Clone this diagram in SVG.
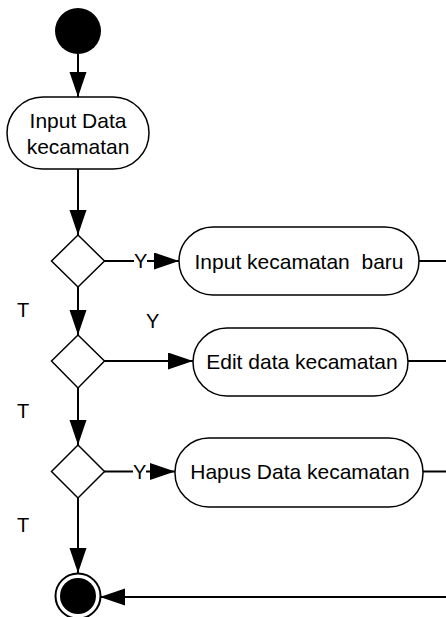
<svg xmlns="http://www.w3.org/2000/svg" width="446" height="617" viewBox="0 0 446 617">
<style>
.n{fill:#fff;stroke:#000;stroke-width:1.5}
.t{font-family:"Liberation Sans",Arial,sans-serif;font-size:21px;fill:#000;text-anchor:middle}
.l{font-family:"Liberation Sans",Arial,sans-serif;font-size:20px;fill:#000}
.c{fill:none;stroke:#000;stroke-width:2}
</style>
<defs>
<marker id="a" markerUnits="userSpaceOnUse" markerWidth="26" markerHeight="18" refX="25" refY="8.5" orient="auto">
<path d="M0,0 L25,8.5 L0,17 Z" fill="#000"/>
</marker>
</defs>
<rect width="446" height="617" fill="#fff"/>
<g id="connectors">
<line class="c" x1="78" y1="54" x2="78" y2="97" marker-end="url(#a)"/>
<line class="c" x1="78" y1="169" x2="78" y2="235" marker-end="url(#a)"/>
<line class="c" x1="104" y1="261" x2="134" y2="261"/>
<line class="c" x1="147" y1="261" x2="179" y2="261" marker-end="url(#a)"/>
<line class="c" x1="419" y1="261" x2="446" y2="261"/>
<line class="c" x1="78" y1="287" x2="78" y2="335" marker-end="url(#a)"/>
<line class="c" x1="104" y1="361" x2="193" y2="361" marker-end="url(#a)"/>
<line class="c" x1="408" y1="361" x2="446" y2="361"/>
<line class="c" x1="78" y1="388" x2="78" y2="445" marker-end="url(#a)"/>
<line class="c" x1="104" y1="471.5" x2="133" y2="471.5"/>
<line class="c" x1="146" y1="471.5" x2="175" y2="471.5" marker-end="url(#a)"/>
<line class="c" x1="423" y1="471.5" x2="446" y2="471.5"/>
<line class="c" x1="78" y1="498" x2="78" y2="573" marker-end="url(#a)"/>
<line class="c" x1="446" y1="597" x2="100" y2="597" marker-end="url(#a)"/>
<text class="l" x="134" y="268">Y</text>
<text class="l" x="146" y="328">Y</text>
<text class="l" x="133" y="478.5">Y</text>
<text class="l" x="17" y="317">T</text>
<text class="l" x="17" y="418">T</text>
<text class="l" x="17" y="532">T</text>
</g>
<g id="start"><circle cx="78" cy="31" r="23" fill="#000"/></g>
<g id="inputData">
<rect class="n" x="7" y="97" width="142" height="72" rx="36"/>
<text class="t" x="78" y="128">Input Data</text>
<text class="t" x="78" y="154">kecamatan</text>
</g>
<g id="d1"><polygon class="n" points="78,235 104.5,261 78,287 51.5,261"/></g>
<g id="inputBaru">
<rect class="n" x="179" y="227" width="240" height="68" rx="34"/>
<text class="t" x="299" y="268.5" xml:space="preserve">Input kecamatan  baru</text>
</g>
<g id="d2"><polygon class="n" points="78,335 104.5,361 78,388 51.5,361"/></g>
<g id="edit">
<rect class="n" x="193" y="328" width="215" height="68" rx="34"/>
<text class="t" x="302" y="368.5">Edit data kecamatan</text>
</g>
<g id="d3"><polygon class="n" points="78,445 104.5,471.5 78,498 51.5,471.5"/></g>
<g id="hapus">
<rect class="n" x="175" y="438" width="248" height="69" rx="34"/>
<text class="t" x="300" y="479">Hapus Data kecamatan</text>
</g>
<g id="end">
<circle cx="78" cy="596" r="22.5" fill="#fff" stroke="#000" stroke-width="2"/>
<circle cx="78" cy="596" r="18" fill="#000"/>
</g>
</svg>
